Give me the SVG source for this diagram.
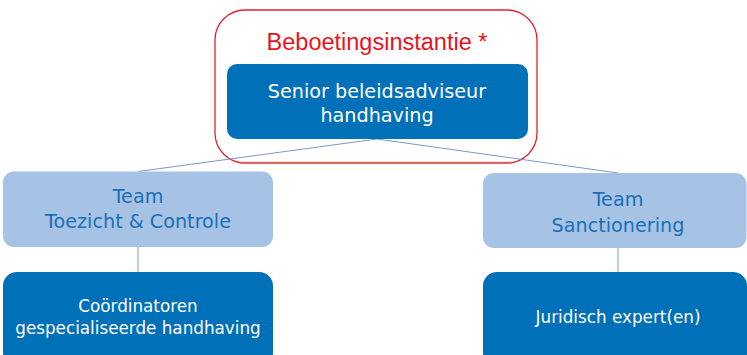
<svg xmlns="http://www.w3.org/2000/svg" width="747" height="355" viewBox="0 0 747 355">
<style>
.dark{fill:#0070b8}
.light{fill:#a6c3e6}
.wt{font-family:"DejaVu Sans",sans-serif;fill:#ffffff;text-anchor:middle}
.bt{font-family:"DejaVu Sans",sans-serif;fill:#1b6fb6;text-anchor:middle;font-size:19.2px}
.conn{stroke:#7b98c6;stroke-width:1;fill:none}
</style>
<rect width="747" height="355" fill="#ffffff"/>
<g id="beboetingsinstantie">
<rect x="215" y="10" width="322" height="153" rx="30" ry="30" fill="none" stroke="#e5202a" stroke-width="1.3"/>
<line x1="240" y1="162.7" x2="512" y2="162.7" stroke="#d46b68" stroke-width="2"/>
<text x="377" y="50" font-family="Liberation Sans, Arial, sans-serif" font-size="23.5" fill="#e8141c" text-anchor="middle">Beboetingsinstantie *</text>
</g>
<g id="connectors">
<line class="conn" x1="377" y1="139" x2="138" y2="171.5"/>
<line class="conn" x1="377" y1="139" x2="618" y2="173"/>
<line class="conn" x1="138" y1="247" x2="138" y2="272"/>
<line class="conn" x1="618" y1="248" x2="618" y2="272"/>
</g>
<g id="senior">
<rect class="dark" x="227" y="64" width="301" height="75" rx="10" ry="10"/>
<text class="wt" font-size="19.2" x="377" y="98">Senior beleidsadviseur</text>
<text class="wt" font-size="19.2" x="377" y="122">handhaving</text>
</g>
<g id="team-toezicht">
<rect class="light" x="3" y="171.5" width="270" height="75.5" rx="11" ry="11"/>
<text class="bt" x="138" y="203">Team</text>
<text class="bt" x="138" y="228">Toezicht &amp; Controle</text>
</g>
<g id="team-sanctionering">
<rect class="light" x="483" y="173" width="263.5" height="75" rx="11" ry="11"/>
<text class="bt" x="618" y="206">Team</text>
<text class="bt" x="618" y="232">Sanctionering</text>
</g>
<g id="coordinatoren">
<rect class="dark" x="3" y="272" width="270" height="95" rx="14" ry="14"/>
<text class="wt" font-size="16.8" x="138" y="312">Coördinatoren</text>
<text class="wt" font-size="16.8" x="138" y="334">gespecialiseerde handhaving</text>
</g>
<g id="juridisch">
<rect class="dark" x="483" y="272" width="264" height="95" rx="14" ry="14"/>
<text class="wt" font-size="16.8" x="618" y="323">Juridisch expert(en)</text>
</g>
</svg>
